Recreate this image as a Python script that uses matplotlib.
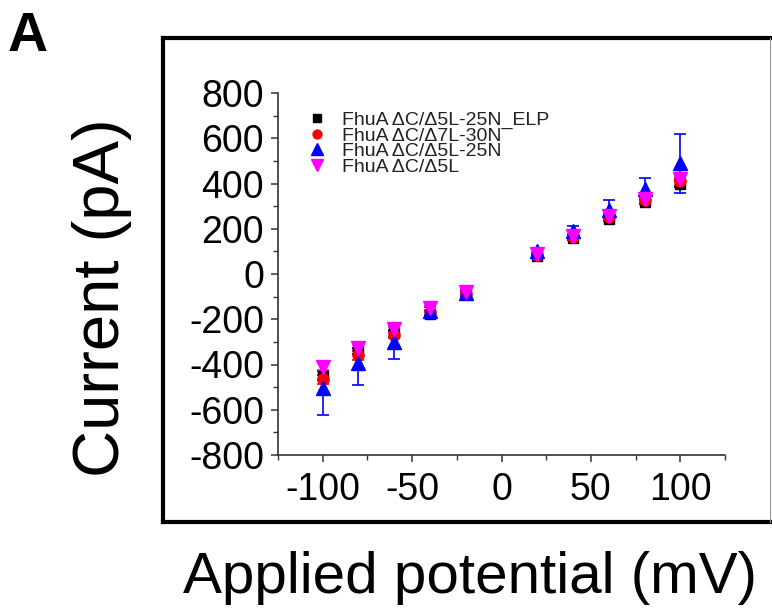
import matplotlib
matplotlib.use("Agg")
import matplotlib.pyplot as plt
from matplotlib.lines import Line2D
from matplotlib.ticker import MultipleLocator

plt.rcParams["font.family"] = ["Liberation Sans", "DejaVu Sans"]
plt.rcParams["axes.unicode_minus"] = False

# applied potential (mV)
voltage = [-100, -80, -60, -40, -20, 20, 40, 60, 80, 100]

# current (pA) and error per construct
elp_i = [-450, -340, -262, -175, -85, 80, 160, 245, 320, 400]
elp_err = [20, 15, 15, 10, 8, 8, 10, 12, 12, 15]
l7_i = [-465, -360, -270, -170, -88, 85, 165, 250, 328, 410]
l7_err = [20, 18, 15, 10, 8, 8, 10, 12, 15, 15]
l5n_i = [-505, -395, -300, -165, -85, 100, 190, 285, 375, 490]
l5n_err = [120, 95, 75, 20, 15, 15, 20, 40, 50, 130]
l5_i = [-410, -325, -245, -150, -78, 90, 170, 255, 330, 420]
l5_err = [15, 12, 10, 8, 8, 8, 8, 10, 12, 12]

labels = ["FhuA \u0394C/\u03945L-25N_ELP", "FhuA \u0394C/\u03947L-30N",
          "FhuA \u0394C/\u03945L-25N", "FhuA \u0394C/\u03945L"]

W, H = 772, 615
fig = plt.figure(figsize=(W / 100, H / 100), dpi=100)

# outer panel frame
frame = dict(color="black", lw=3, transform=fig.transFigure, solid_capstyle="projecting")
fig.add_artist(Line2D([163 / W, 163 / W], [1 - 38 / H, 1 - 522 / H], **frame))
fig.add_artist(Line2D([163 / W, 1.0], [1 - 38 / H, 1 - 38 / H], **frame))
fig.add_artist(Line2D([163 / W, 1.0], [1 - 522 / H, 1 - 522 / H], **frame))
fig.add_artist(Line2D([770 / W, 770 / W], [1 - 38 / H, 1 - 522 / H],
                      color="#999999", lw=0.8, transform=fig.transFigure))

ax = fig.add_axes([278 / W, 1 - 455 / H, (725 - 278) / W, (455 - 93) / H])

series = [
    (elp_i, elp_err, "s", "#000000", 7),
    (l7_i, l7_err, "o", "#FF0000", 8),
    (l5n_i, l5n_err, "^", "#0000FF", 10),
    (l5_i, l5_err, "v", "#FF00FF", 10),
]
handles = []
for (y, e, m, c, ms), lab in zip(series, labels):
    ax.errorbar(voltage, y, yerr=e, fmt=m, color=c, ecolor=c, ms=ms,
                mec=c, elinewidth=1.2, capsize=4, capthick=1.2)
    handles.append(Line2D([], [], ls="none", marker=m, color=c, mec=c,
                          ms=ms * 0.8, label=lab))

ax.set_xlim(-125, 125)
ax.set_ylim(-800, 800)
ax.xaxis.set_major_locator(MultipleLocator(50))
ax.xaxis.set_minor_locator(MultipleLocator(25))
ax.yaxis.set_major_locator(MultipleLocator(200))
ax.yaxis.set_minor_locator(MultipleLocator(100))

for s in ("top", "right"):
    ax.spines[s].set_visible(False)
for s in ("left", "bottom"):
    ax.spines[s].set_color("#333333")
    ax.spines[s].set_linewidth(1.2)

ax.tick_params(axis="both", which="major", direction="out", length=5, width=1.1,
               color="#333333", labelsize=27)
ax.tick_params(axis="both", which="minor", direction="out", length=3.5, width=1.0,
               color="#333333")
ax.tick_params(axis="y", pad=5)
ax.tick_params(axis="x", pad=7)

leg = ax.legend(handles=handles, loc="upper left", bbox_to_anchor=(0.065, 0.95),
                frameon=False, fontsize=14, borderpad=0, labelspacing=-0.1,
                handlelength=1.0, handletextpad=0.8, borderaxespad=0)
for t in leg.get_texts():
    t.set_color("#222222")

fig.text(102 / W, 1 - 298 / H, "Current (pA)", rotation=90, fontsize=47,
         ha="center", va="center")
fig.text(470 / W, 1 - 578 / H, "Applied potential (mV)", fontsize=42,
         ha="center", va="center")
fig.text(8 / W, 1 - 37 / H, "A", fontsize=40, fontweight="bold",
         ha="left", va="center")

fig.savefig("out.png", dpi=100)
